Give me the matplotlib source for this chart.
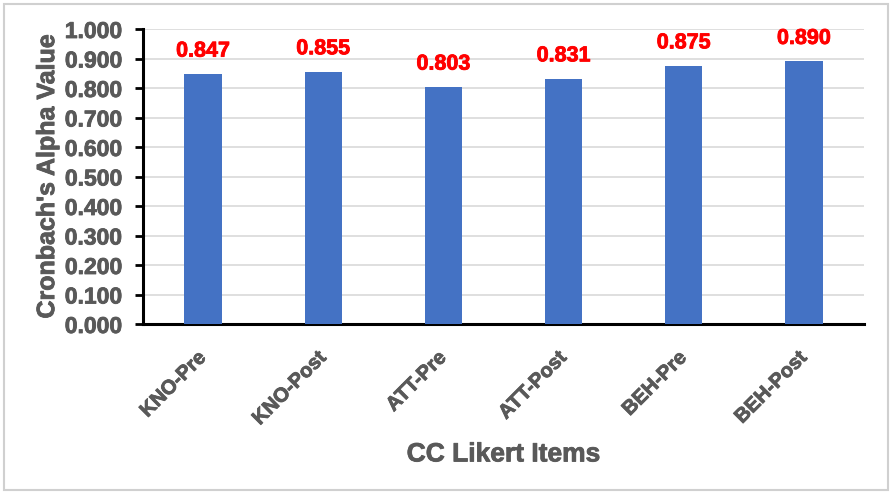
import matplotlib.pyplot as plt
import matplotlib.patheffects as pe
from matplotlib.patches import Rectangle
from matplotlib.transforms import ScaledTranslation

# reliability per Likert item group
items = ['KNO-Pre', 'KNO-Post', 'ATT-Pre', 'ATT-Post', 'BEH-Pre', 'BEH-Post']
alpha = [0.847, 0.855, 0.803, 0.831, 0.875, 0.890]
yticks = [0.0, 0.1, 0.2, 0.3, 0.4, 0.5, 0.6, 0.7, 0.8, 0.9, 1.0]

plt.rcParams['font.family'] = ['Liberation Sans', 'DejaVu Sans']
grey = '#595959'


def heavy(c):
    # thicken the bold glyphs a little
    return [pe.withStroke(linewidth=0.6, foreground=c)]


fig = plt.figure(figsize=(8.9, 4.95), dpi=100)
ax = fig.add_axes([143 / 890, 1 - 324 / 495, (864 - 143) / 890, (324 - 29) / 495])

x = range(len(items))
ax.bar(x, alpha, width=0.31, color='#4472C4', zorder=3)
for i, v in zip(x, alpha):
    ax.annotate(f'{v:.3f}', (i, v), xytext=(0, 9), textcoords='offset points',
                ha='center', va='bottom', color='#FF0000', fontsize=15.5,
                fontweight='bold', path_effects=heavy('#FF0000'))

ax.set_xlim(-0.5, len(items) - 0.5)
ax.set_ylim(0, 1.0)
ax.set_yticks(yticks)
ax.set_yticklabels([f'{t:.3f}' for t in yticks], fontsize=16.5, fontweight='bold',
                   color=grey, path_effects=heavy(grey))
ax.set_xticks(list(x))
ax.set_xticklabels(items, rotation=45, ha='right', va='center', rotation_mode='anchor',
                   fontsize=14.5, fontweight='bold', color=grey, path_effects=heavy(grey))
shift = ScaledTranslation(-5 / 72, 0, fig.dpi_scale_trans)
for lab in ax.get_xticklabels():
    lab.set_transform(lab.get_transform() + shift)
ax.tick_params(axis='x', length=0, pad=22)
ax.tick_params(axis='y', length=6, width=2, color='black', pad=9)
ax.grid(axis='y', color='#D9D9D9', linewidth=1.2, zorder=0)

for s in ['top', 'right']:
    ax.spines[s].set_visible(False)
for s in ['left', 'bottom']:
    ax.spines[s].set_linewidth(2.2)
    ax.spines[s].set_color('black')

ax.set_xlabel('CC Likert Items', fontsize=19, fontweight='bold', color=grey, labelpad=10,
              path_effects=heavy(grey))
ax.set_ylabel("Cronbach's Alpha Value", fontsize=18, fontweight='bold', color=grey,
              labelpad=4, path_effects=heavy(grey))

# light frame around the whole chart
fig.patches.append(Rectangle((4 / 890, 1 - 490 / 495), 884 / 890, 486 / 495,
                             transform=fig.transFigure, fill=False,
                             edgecolor='#D0D0D0', linewidth=1.5))

fig.savefig('out.png', dpi=100)
